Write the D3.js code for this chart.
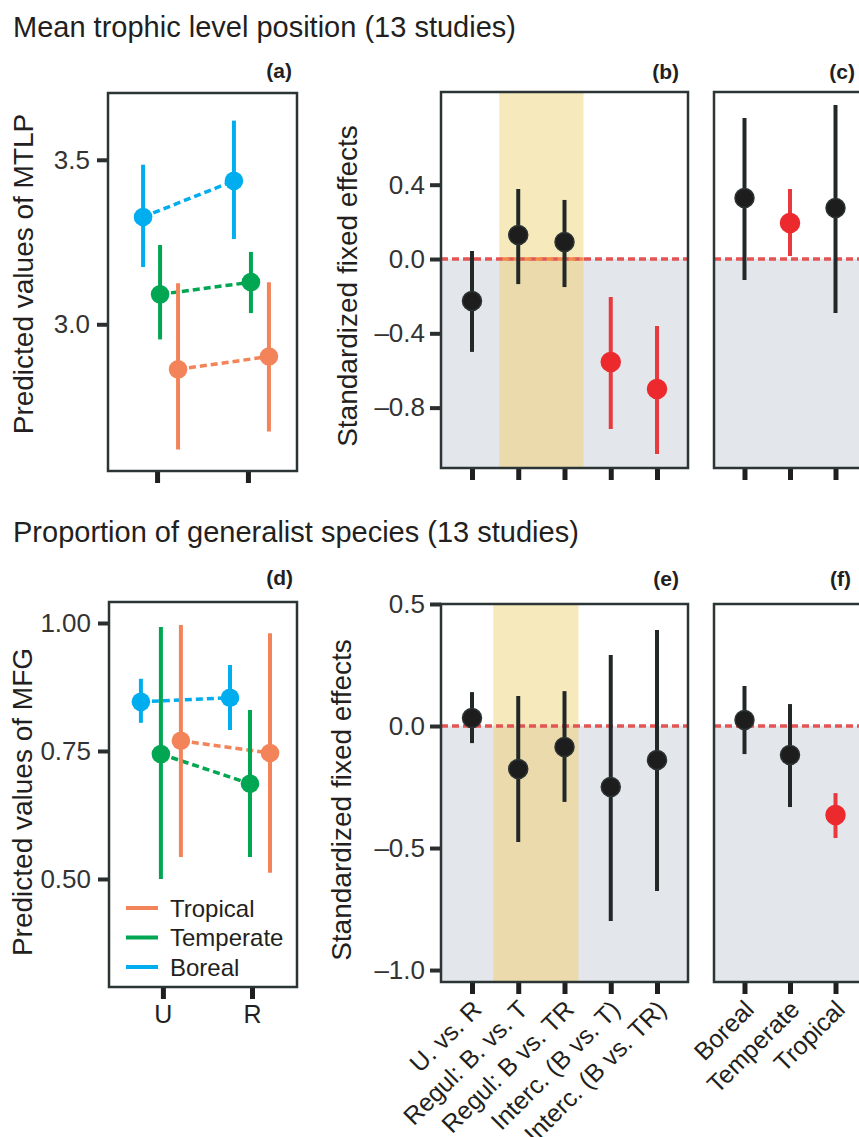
<!DOCTYPE html>
<html>
<head>
<meta charset="utf-8">
<script src="https://cdn.jsdelivr.net/npm/d3@7"></script>
<style>
  body { margin: 0; background: #fff; }
  svg { display: block; }
</style>
</head>
<body>
<div class="content"></div>
<script>
// categories
var landUse = ["U", "R"];
var regions = ["Boreal", "Temperate", "Tropical"];
var legendOrder = ["Tropical", "Temperate", "Boreal"];
var contrasts = ["U. vs. R", "Regul: B. vs. T", "Regul: B vs. TR", "Interc. (B vs. T)", "Interc. (B vs. TR)"];
var highlighted = ["Regul: B. vs. T", "Regul: B vs. TR"];

// predicted values, one row per land use: [estimate, lower, upper]
var mtlpBoreal    = [[3.326, 3.174, 3.485], [3.436, 3.259, 3.619]];
var mtlpTemperate = [[3.091, 2.954, 3.241], [3.128, 3.034, 3.220]];
var mtlpTropical  = [[2.863, 2.619, 3.125], [2.902, 2.674, 3.128]];
var mfgBoreal     = [[0.846, 0.805, 0.891], [0.854, 0.791, 0.918]];
var mfgTemperate  = [[0.744, 0.500, 0.992], [0.686, 0.543, 0.830]];
var mfgTropical   = [[0.770, 0.543, 0.996], [0.746, 0.512, 0.980]];

// standardized fixed effects: [estimate, lower, upper]
var mtlpContrasts = [[-0.226, -0.500, 0.043], [0.129, -0.135, 0.377], [0.092, -0.151, 0.318],
                     [-0.554, -0.915, -0.205], [-0.700, -1.050, -0.360]];
var mtlpRegions   = [[0.328, -0.113, 0.759], [0.194, 0.016, 0.377], [0.274, -0.291, 0.829]];
var mfgContrasts  = [[0.033, -0.070, 0.139], [-0.176, -0.475, 0.123], [-0.086, -0.311, 0.143],
                     [-0.250, -0.799, 0.291], [-0.139, -0.676, 0.393]];
var mfgRegions    = [[0.025, -0.115, 0.164], [-0.119, -0.332, 0.090], [-0.365, -0.459, -0.275]];

// tick values
var mtlpTicks = [3.0, 3.5];
var mfgTicks = [0.50, 0.75, 1.00];
var effTicksTop = [-0.8, -0.4, 0.0, 0.4];
var effTicksBottom = [-1.0, -0.5, 0.0, 0.5];

var FONT = '"Liberation Sans", Arial, Helvetica, sans-serif';
var colRegion = {Boreal: "#00aeef", Temperate: "#00a651", Tropical: "#f3845a"};
var frame = "#2c3535";
var red = "#ec2a2e";

var svg = d3.select(".content")
    .append("svg")
    .attr("width", 859)
    .attr("height", 1137)
    .style("font-family", FONT);

function minusFmt(f) {
    return function(d) { return d3.format(f)(d).replace("\u2212", "\u2013"); };
}

function yAxis(left, y, ticks, fmt, pad) {
    var ax = svg.append("g")
        .attr("transform", "translate(" + left + ",0)")
        .call(d3.axisLeft(y).tickValues(ticks).tickFormat(fmt).tickSize(11).tickPadding(pad));
    ax.attr("font-family", FONT).attr("font-size", 26);
    ax.select(".domain").remove();
    ax.selectAll(".tick line").attr("stroke", "#2a2e2e").attr("stroke-width", 4);
    ax.selectAll(".tick text").attr("fill", "#333");
}

function xAxis(bottom, x, showText) {
    var ax = svg.append("g")
        .attr("transform", "translate(0," + bottom + ")")
        .call(d3.axisBottom(x).tickSize(12).tickPadding(6).tickFormat(showText ? null : ""));
    ax.attr("font-family", FONT).attr("font-size", 25);
    ax.select(".domain").remove();
    ax.selectAll(".tick line").attr("stroke", "#1f1f1f").attr("stroke-width", 5);
    ax.selectAll(".tick text").attr("fill", "#231f20");
}

function box(p) {
    svg.append("rect")
        .attr("x", p.left).attr("y", p.top)
        .attr("width", p.right - p.left).attr("height", p.bottom - p.top)
        .attr("fill", "none").attr("stroke", frame).attr("stroke-width", 2.5);
}

function panelLabel(txt, x, y) {
    svg.append("text").attr("x", x).attr("y", y)
        .attr("text-anchor", "end").attr("font-weight", "bold").attr("font-size", 21)
        .attr("fill", "#231f20").text(txt);
}

function yTitle(txt, x, y) {
    svg.append("text")
        .attr("transform", "translate(" + x + "," + y + ") rotate(-90)")
        .attr("text-anchor", "middle").attr("font-size", 28).attr("fill", "#231f20")
        .text(txt);
}

// ---- predicted values panels (a) and (d)
function predicted(p, series, ticks, fmt, dodge, legend) {
    var x = d3.scalePoint().domain(landUse).range([p.left, p.right]).padding(p.pad).align(p.align);
    var y = d3.scaleLinear().domain(p.ydom).range([p.bottom, p.top]);

    regions.forEach(function(r, k) {
        var px = function(d, i) { return x(landUse[i]) + dodge[k]; };
        svg.append("path")
            .datum(series[r])
            .attr("fill", "none")
            .attr("stroke", colRegion[r])
            .attr("stroke-width", 3.5)
            .attr("stroke-dasharray", "7,4")
            .attr("d", d3.line().x(px).y(function(d) { return y(d[0]); }));
    });
    regions.forEach(function(r, k) {
        var rows = series[r];
        var px = function(d, i) { return x(landUse[i]) + dodge[k]; };
        svg.append("g").selectAll("line").data(rows).enter().append("line")
            .attr("x1", px).attr("x2", px)
            .attr("y1", function(d) { return y(d[1]); })
            .attr("y2", function(d) { return y(d[2]); })
            .attr("stroke", colRegion[r]).attr("stroke-width", 4);
        svg.append("g").selectAll("circle").data(rows).enter().append("circle")
            .attr("cx", px).attr("cy", function(d) { return y(d[0]); })
            .attr("r", 9.3).attr("fill", colRegion[r]);
    });

    if (legend) {
        var lg = svg.append("g");
        legendOrder.forEach(function(r, i) {
            var ly = legend.y + i * 29.5;
            lg.append("line").attr("x1", legend.x).attr("x2", legend.x + 32)
                .attr("y1", ly).attr("y2", ly)
                .attr("stroke", colRegion[r]).attr("stroke-width", 4);
            lg.append("text").attr("x", legend.x + 44).attr("y", ly).attr("dy", "0.36em")
                .attr("font-size", 24).attr("fill", "#231f20").text(r);
        });
    }

    yAxis(p.left, y, ticks, fmt, 7);
    xAxis(p.bottom, x, p.showX);
    box(p);
}

// ---- standardized effect panels (b, c, e, f)
function effects(p, cats, rows, ticks, band) {
    var x = d3.scalePoint().domain(cats).range([p.left, p.right]).padding(0.67);
    var y = d3.scaleLinear().domain(p.ydom).range([p.bottom, p.top]);
    var y0 = y(0);

    svg.append("rect").attr("x", p.left).attr("y", y0)
        .attr("width", p.right - p.left).attr("height", p.bottom - y0).attr("fill", "#e3e6eb");

    var bx0 = 0, bx1 = 0;
    if (band) {
        bx0 = x(highlighted[0]) - band.before;
        bx1 = x(highlighted[highlighted.length - 1]) + band.after;
        svg.append("rect").attr("x", bx0).attr("y", p.top)
            .attr("width", bx1 - bx0).attr("height", y0 - p.top).attr("fill", "#f6eabd");
        svg.append("rect").attr("x", bx0).attr("y", y0)
            .attr("width", bx1 - bx0).attr("height", p.bottom - y0).attr("fill", "#ebdaac");
    }

    svg.append("line").attr("x1", p.left).attr("x2", p.right)
        .attr("y1", y0).attr("y2", y0)
        .attr("stroke", "#e35454").attr("stroke-width", 3.5).attr("stroke-dasharray", "7,4");
    if (band && band.tint) {
        svg.append("line").attr("x1", bx0).attr("x2", bx1)
            .attr("y1", y0).attr("y2", y0)
            .attr("stroke", "#ee8a4c").attr("stroke-width", 3.5).attr("stroke-dasharray", "7,4")
            .attr("stroke-dashoffset", -(bx0 - p.left));
    }

    var signif = function(d) { return d[1] > 0 || d[2] < 0; };
    var g = svg.append("g");
    g.selectAll("line").data(rows).enter().append("line")
        .attr("x1", function(d, i) { return x(cats[i]); })
        .attr("x2", function(d, i) { return x(cats[i]); })
        .attr("y1", function(d) { return y(d[1]); })
        .attr("y2", function(d) { return y(d[2]); })
        .attr("stroke", function(d) { return signif(d) ? "#e8393d" : "#222828"; })
        .attr("stroke-width", 4);
    g.selectAll("circle").data(rows).enter().append("circle")
        .attr("cx", function(d, i) { return x(cats[i]); })
        .attr("cy", function(d) { return y(d[0]); })
        .attr("r", 9.5)
        .attr("fill", function(d) { return signif(d) ? red : "#1d1d1d"; })
        .attr("stroke", function(d) { return signif(d) ? red : "#2b3333"; })
        .attr("stroke-width", 1.5);

    if (p.axis) yAxis(p.left, y, ticks, minusFmt(".1f"), 5);
    xAxis(p.bottom, x, false);

    if (p.labels) {
        // rotated category names under the panel
        svg.append("g").selectAll("text").data(cats).enter().append("text")
            .attr("transform", function(d) {
                return "translate(" + (x(d) + 11) + "," + (p.bottom + 29) + ") rotate(-45)";
            })
            .attr("text-anchor", "end")
            .attr("font-size", 25)
            .attr("fill", "#231f20")
            .text(function(d) { return d; });
    }
    box(p);
}

// titles
svg.append("text").attr("x", 13).attr("y", 37).attr("font-size", 29).attr("fill", "#231f20")
    .text("Mean trophic level position (13 studies)");
svg.append("text").attr("x", 13).attr("y", 542).attr("font-size", 29).attr("fill", "#231f20")
    .text("Proportion of generalist species (13 studies)");

// (a)
predicted({left: 108, top: 93, right: 297, bottom: 471, ydom: [2.554, 3.703], pad: 0.54, align: 0.5, showX: false},
    {Boreal: mtlpBoreal, Temperate: mtlpTemperate, Tropical: mtlpTropical},
    mtlpTicks, d3.format(".1f"), [-14, 3, 21], null);
// (d)
predicted({left: 109, top: 602, right: 297, bottom: 987, ydom: [0.289, 1.041], pad: 0.555, align: 0.545, showX: true},
    {Boreal: mfgBoreal, Temperate: mfgTemperate, Tropical: mfgTropical},
    mfgTicks, d3.format(".2f"), [-22, -2, 18], {x: 126, y: 908});

// (b) and (c)
effects({left: 441, top: 92, right: 688, bottom: 468, ydom: [-1.125, 0.899], axis: true},
    contrasts, mtlpContrasts, effTicksTop, {before: 19, after: 19, tint: true});
effects({left: 714, top: 92, right: 866, bottom: 468, ydom: [-1.125, 0.899], axis: false},
    regions, mtlpRegions, effTicksTop, null);

// (e) and (f)
effects({left: 441, top: 604, right: 688, bottom: 982, ydom: [-1.049, 0.5], axis: true, labels: true},
    contrasts, mfgContrasts, effTicksBottom, {before: 25, after: 14, tint: false});
effects({left: 714, top: 604, right: 866, bottom: 982, ydom: [-1.049, 0.5], axis: false, labels: true},
    regions, mfgRegions, effTicksBottom, null);

// axis titles
yTitle("Predicted values of MTLP", 33, 274);
yTitle("Standardized fixed effects", 357, 286);
yTitle("Predicted values of MFG", 32, 802);
yTitle("Standardized fixed effects", 351, 800);

// panel tags
panelLabel("(a)", 292, 78);
panelLabel("(b)", 679, 79);
panelLabel("(c)", 855, 79);
panelLabel("(d)", 293, 585);
panelLabel("(e)", 679, 586);
panelLabel("(f)", 851, 586);
</script>
</body>
</html>
